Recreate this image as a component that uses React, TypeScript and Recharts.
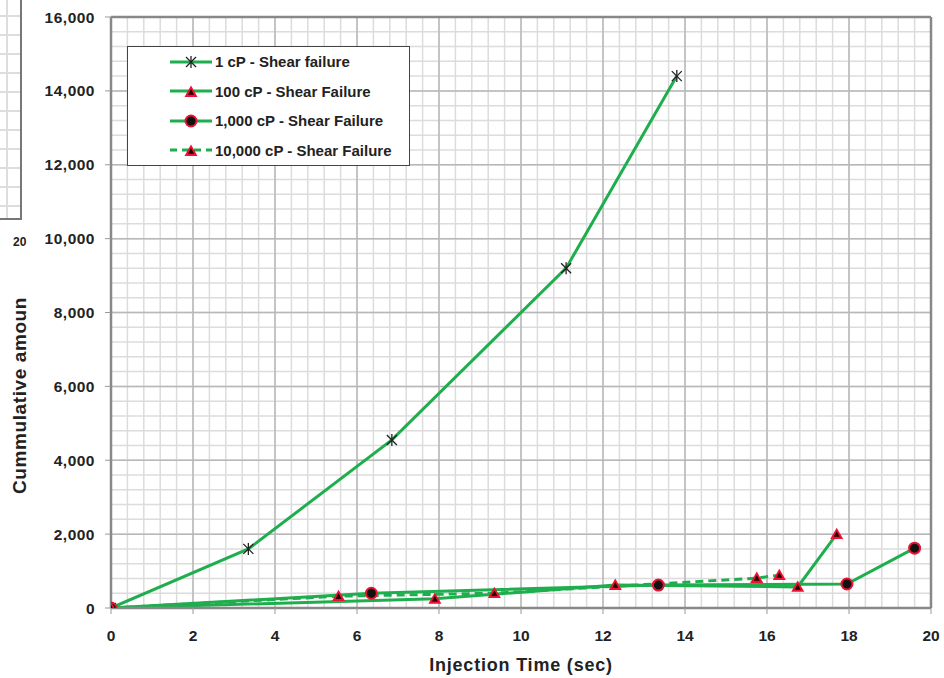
import React from 'react';
import { LineChart, Line, XAxis, YAxis, CartesianGrid, ReferenceLine } from 'recharts';

// 1 cP
const cp1Time = [0, 3.35, 6.85, 11.1, 13.8];
const cp1Amount = [0, 1600, 4550, 9200, 14400];
// 100 cP
const cp100Time = [0, 7.9, 12.3, 16.75, 17.7];
const cp100Amount = [0, 250, 620, 570, 2000];
// 1,000 cP
const cp1000Time = [0, 6.35, 13.35, 17.95, 19.6];
const cp1000Amount = [0, 400, 620, 650, 1620];
// 10,000 cP
const cp10000Time = [0, 5.55, 9.35, 15.75, 16.3];
const cp10000Amount = [0, 320, 400, 810, 890];

const xMajor = [0, 2, 4, 6, 8, 10, 12, 14, 16, 18, 20];
const yMajor = [0, 2000, 4000, 6000, 8000, 10000, 12000, 14000, 16000];
const xMinor = Array.from({ length: 51 }, (_, i) => Math.round(i * 4) / 10);
const yMinor = Array.from({ length: 41 }, (_, i) => i * 400);

const GREEN = '#1fae4e';
const RED = '#ee1133';
const FONT = '"Liberation Sans", Arial, sans-serif';

const toPoints = (xs: number[], ys: number[]) => xs.map((x, i) => ({ x, y: ys[i] }));

const Star = ({ cx, cy }: any) => {
  if (cx == null || cy == null) return null;
  const r = 5;
  return (
    <g stroke="#222" strokeWidth={1.3}>
      <line x1={cx - r} y1={cy - r} x2={cx + r} y2={cy + r} />
      <line x1={cx - r} y1={cy + r} x2={cx + r} y2={cy - r} />
      <line x1={cx} y1={cy - r - 1} x2={cx} y2={cy + r + 1} />
    </g>
  );
};

const Tri = ({ cx, cy }: any) => {
  if (cx == null || cy == null) return null;
  const s = 6.5;
  const t = 3;
  return (
    <g>
      <polygon points={`${cx},${cy - s} ${cx + s},${cy + s * 0.75} ${cx - s},${cy + s * 0.75}`} fill={RED} />
      <polygon points={`${cx},${cy - t} ${cx + t},${cy + t * 0.9} ${cx - t},${cy + t * 0.9}`} fill="#200" />
    </g>
  );
};

const Dot = ({ cx, cy }: any) => {
  if (cx == null || cy == null) return null;
  return <circle cx={cx} cy={cy} r={5.5} fill="#111" stroke={RED} strokeWidth={2} />;
};

const XTick = ({ x, y, payload }: any) => {
  const v = payload.value;
  if (!xMajor.includes(v)) return <g />;
  return (
    <g>
      <line x1={x} y1={y} x2={x} y2={y + 6} stroke="#999" />
      <text x={x} y={y + 33} textAnchor="middle" fontFamily={FONT} fontWeight="bold" fontSize={15.5} fill="#222">
        {v}
      </text>
    </g>
  );
};

const YTick = ({ x, y, payload }: any) => {
  const v = payload.value;
  if (!yMajor.includes(v)) return <g />;
  return (
    <g>
      <line x1={x - 6} y1={y} x2={x} y2={y} stroke="#999" />
      <text
        x={x - 16}
        y={y + 5.5}
        textAnchor="end"
        fontFamily={FONT}
        fontWeight="bold"
        fontSize={15.5}
        letterSpacing={0.5}
        fill="#222"
      >
        {v.toLocaleString('en-US')}
      </text>
    </g>
  );
};

const legendItems = [
  { label: '1 cP - Shear failure', marker: 'star', dashed: false },
  { label: '100 cP - Shear Failure', marker: 'tri', dashed: false },
  { label: '1,000 cP - Shear Failure', marker: 'dot', dashed: false },
  { label: '10,000 cP - Shear Failure', marker: 'tri', dashed: true },
];

const LegendBox = () => (
  <div
    style={{
      position: 'absolute',
      left: 127,
      top: 46,
      width: 283,
      height: 120,
      border: '1.5px solid #444',
      background: '#fff',
      boxSizing: 'border-box',
      paddingTop: 0,
      fontFamily: FONT,
    }}
  >
    {legendItems.map((it) => (
      <div key={it.label} style={{ display: 'flex', alignItems: 'center', height: 29.5 }}>
        <svg width={90} height={16} style={{ flexShrink: 0 }}>
          <line
            x1={42}
            y1={8}
            x2={84}
            y2={8}
            stroke={GREEN}
            strokeWidth={3}
            strokeDasharray={it.dashed ? '7 5' : undefined}
          />
          {it.marker === 'star' && <Star cx={63} cy={8} />}
          {it.marker === 'tri' && <Tri cx={63} cy={9} />}
          {it.marker === 'dot' && <Dot cx={63} cy={8} />}
        </svg>
        <span style={{ fontSize: 15, fontWeight: 'bold', color: '#222', marginLeft: -3 }}>{it.label}</span>
      </div>
    ))}
  </div>
);

export default function App() {
  return (
    <div style={{ position: 'absolute', left: 0, top: 0, width: 944, height: 678, background: '#fff', overflow: 'hidden' }}>
      {/* piece of neighbouring chart */}
      <div
        style={{
          position: 'absolute',
          left: -4,
          top: -4,
          width: 26,
          height: 224,
          boxSizing: 'border-box',
          border: '2px solid #777',
          backgroundImage:
            'repeating-linear-gradient(to bottom, transparent 0 17px, #ddd 17px 19px), linear-gradient(to right, transparent 8px, #ddd 8px 10px, transparent 10px)',
        }}
      />
      <div
        style={{
          position: 'absolute',
          left: 13,
          top: 235,
          fontFamily: FONT,
          fontWeight: 'bold',
          fontSize: 12,
          color: '#222',
        }}
      >
        20
      </div>
      <LineChart width={944} height={678} margin={{ top: 17, right: 13, bottom: 0, left: 0 }}>
        <CartesianGrid stroke="#dcdcdc" strokeWidth={1.5} />
        {xMajor.slice(1, -1).map((v) => (
          <ReferenceLine key={`vx${v}`} x={v} stroke="#b8b8b8" strokeWidth={1.5} />
        ))}
        {yMajor.slice(1, -1).map((v) => (
          <ReferenceLine key={`hy${v}`} y={v} stroke="#b8b8b8" strokeWidth={1.5} />
        ))}
        <ReferenceLine x={20} stroke="#888" strokeWidth={2.5} />
        <ReferenceLine y={16000} stroke="#888" strokeWidth={2.5} />
        <XAxis
          type="number"
          dataKey="x"
          domain={[0, 20]}
          ticks={xMinor}
          interval={0}
          tickSize={0}
          tickMargin={0}
          tickLine={false}
          tick={<XTick />}
          axisLine={{ stroke: '#888', strokeWidth: 2.5 }}
          height={70}
          allowDataOverflow
          label={{
            value: 'Injection Time (sec)',
            position: 'insideBottom',
            offset: 7,
            style: { fontFamily: FONT, fontWeight: 'bold', fontSize: 18, letterSpacing: 0.8, fill: '#222' },
          }}
        />
        <YAxis
          type="number"
          dataKey="y"
          domain={[0, 16000]}
          ticks={yMinor}
          interval={0}
          tickSize={0}
          tickMargin={0}
          tickLine={false}
          tick={<YTick />}
          axisLine={{ stroke: '#888', strokeWidth: 2.5 }}
          width={111}
          allowDataOverflow
          label={{
            value: 'Cummulative amoun',
            angle: -90,
            position: 'insideLeft',
            offset: 19,
            dy: 83,
            style: { fontFamily: FONT, fontWeight: 'bold', fontSize: 19, letterSpacing: 0.6, fill: '#222', textAnchor: 'middle' },
          }}
        />
        <Line
          data={toPoints(cp1Time, cp1Amount)}
          dataKey="y"
          name="1 cP - Shear failure"
          stroke={GREEN}
          strokeWidth={3}
          dot={<Star />}
          isAnimationActive={false}
        />
        <Line
          data={toPoints(cp10000Time, cp10000Amount)}
          dataKey="y"
          name="10,000 cP - Shear Failure"
          stroke={GREEN}
          strokeWidth={3}
          strokeDasharray="8 5"
          dot={<Tri />}
          isAnimationActive={false}
        />
        <Line
          data={toPoints(cp1000Time, cp1000Amount)}
          dataKey="y"
          name="1,000 cP - Shear Failure"
          stroke={GREEN}
          strokeWidth={3}
          dot={<Dot />}
          isAnimationActive={false}
        />
        <Line
          data={toPoints(cp100Time, cp100Amount)}
          dataKey="y"
          name="100 cP - Shear Failure"
          stroke={GREEN}
          strokeWidth={3}
          dot={<Tri />}
          isAnimationActive={false}
        />
      </LineChart>
      <LegendBox />
    </div>
  );
}
